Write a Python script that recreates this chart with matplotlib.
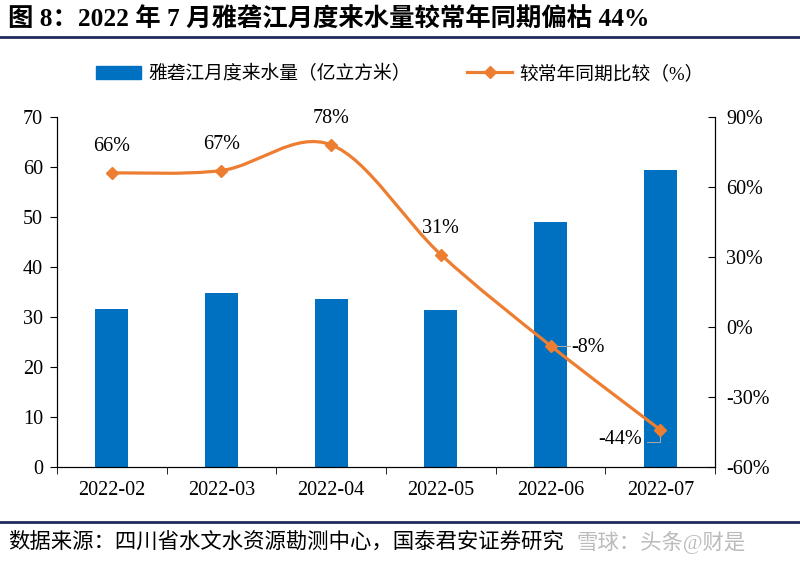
import numpy as np
import matplotlib.pyplot as plt
from matplotlib.path import Path
from matplotlib.patches import PathPatch
from matplotlib.lines import Line2D
from matplotlib.patches import Patch

plt.rcParams['font.family'] = ['Liberation Serif', 'Noto Sans CJK SC', 'DejaVu Sans']

months = ['2022-02', '2022-03', '2022-04', '2022-05', '2022-06', '2022-07']
inflow = [31.6, 34.8, 33.6, 31.4, 49.0, 59.4]      # 亿立方米
yoy = [66, 67, 78, 31, -8, -44]                     # %

blue = '#0070C0'
orange = '#ED7D31'
fs = 14.5

fig = plt.figure(figsize=(8, 5.67), dpi=100)
ax = fig.add_axes([0.071, 0.176, 0.823, 0.618])
x = np.arange(len(months))

ax.bar(x, inflow, width=0.3, color=blue, zorder=2)
ax.set_xlim(-0.5, len(months) - 0.5)
ax.set_ylim(0, 70)
ax.set_yticks(range(0, 71, 10))
ax.set_xticks(x)
ax.set_xticklabels(months, fontsize=fs)
ax.set_xticks(np.arange(-0.5, len(months)), minor=True)
ax.tick_params(axis='x', which='major', length=0, pad=10)
ax.tick_params(axis='x', which='minor', length=5, direction='out')
ax.tick_params(axis='y', labelsize=fs, direction='out', length=5, pad=5)
ax.spines['top'].set_visible(False)

ax2 = ax.twinx()
ax2.set_ylim(-60, 90)
ax2.set_yticks(range(-60, 91, 30))
ax2.set_yticklabels([f'{v}%' for v in range(-60, 91, 30)])
ax2.tick_params(axis='y', labelsize=fs, direction='in', length=5, pad=8)
ax2.spines['top'].set_visible(False)

# smooth line (Catmull-Rom as cubic bezier segments)
pts = list(zip(x.astype(float), yoy))
verts = [pts[0]]
codes = [Path.MOVETO]
for i in range(len(pts) - 1):
    p0 = pts[i - 1] if i > 0 else pts[i]
    p1 = pts[i]
    p2 = pts[i + 1]
    p3 = pts[i + 2] if i + 2 < len(pts) else pts[i + 1]
    c1 = (p1[0] + (p2[0] - p0[0]) / 6, p1[1] + (p2[1] - p0[1]) / 6)
    c2 = (p2[0] - (p3[0] - p1[0]) / 6, p2[1] - (p3[1] - p1[1]) / 6)
    verts += [c1, c2, p2]
    codes += [Path.CURVE4] * 3
ax2.add_patch(PathPatch(Path(verts, codes), fill=False, edgecolor=orange, lw=2.3, zorder=3))
ax2.plot(x, yoy, linestyle='none', marker='D', markersize=6, color=orange, zorder=4)

# data labels
offsets = [(0, 19), (0, 19), (0, 19), (0, 19), (27, -1), (-29, -7)]
for xi, v, (dx, dy) in zip(x, yoy, offsets):
    ax2.annotate(f'{v}%', (xi, v), textcoords='offset points', xytext=(dx, dy),
                 ha='center', va='center', fontsize=fs)
ax2.plot([x[4] + 0.02, x[4] + 0.18], [yoy[4], yoy[4]], color='#A6A6A6', lw=0.8, zorder=2)
ax2.plot([x[5] - 0.12, x[5], x[5]], [-49, -49, -45], color='#A6A6A6', lw=0.8, zorder=2)

# legend
handles = [Patch(color=blue, label='雅砻江月度来水量（亿立方米）'),
           Line2D([], [], color=orange, lw=2.3, marker='D', markersize=6, label='较常年同期比较（%）')]
fig.legend(handles=handles, loc='center', bbox_to_anchor=(0.5, 0.87), ncol=2, frameon=False,
           fontsize=13.5, handlelength=2.4, handletextpad=0.4, columnspacing=3)

# title & footer
fig.text(0.01, 0.965, '图 8：2022 年 7 月雅砻江月度来水量较常年同期偏枯 44%', fontsize=18.3,
         fontweight='bold', va='center', ha='left')
fig.add_artist(Line2D([0, 1], [0.935, 0.935], color='#1F2D5C', lw=2))
fig.add_artist(Line2D([0, 1], [0.079, 0.079], color='#1F2D5C', lw=2))
fig.text(0.01, 0.043, '数据来源：四川省水文水资源勘测中心，国泰君安证券研究', fontsize=15.4,
         va='center', ha='left')
fig.text(0.72, 0.043, '雪球：头条@财是', fontsize=15.4, color='#BBBBBB', va='center', ha='left')

fig.savefig('out.png', dpi=100)
